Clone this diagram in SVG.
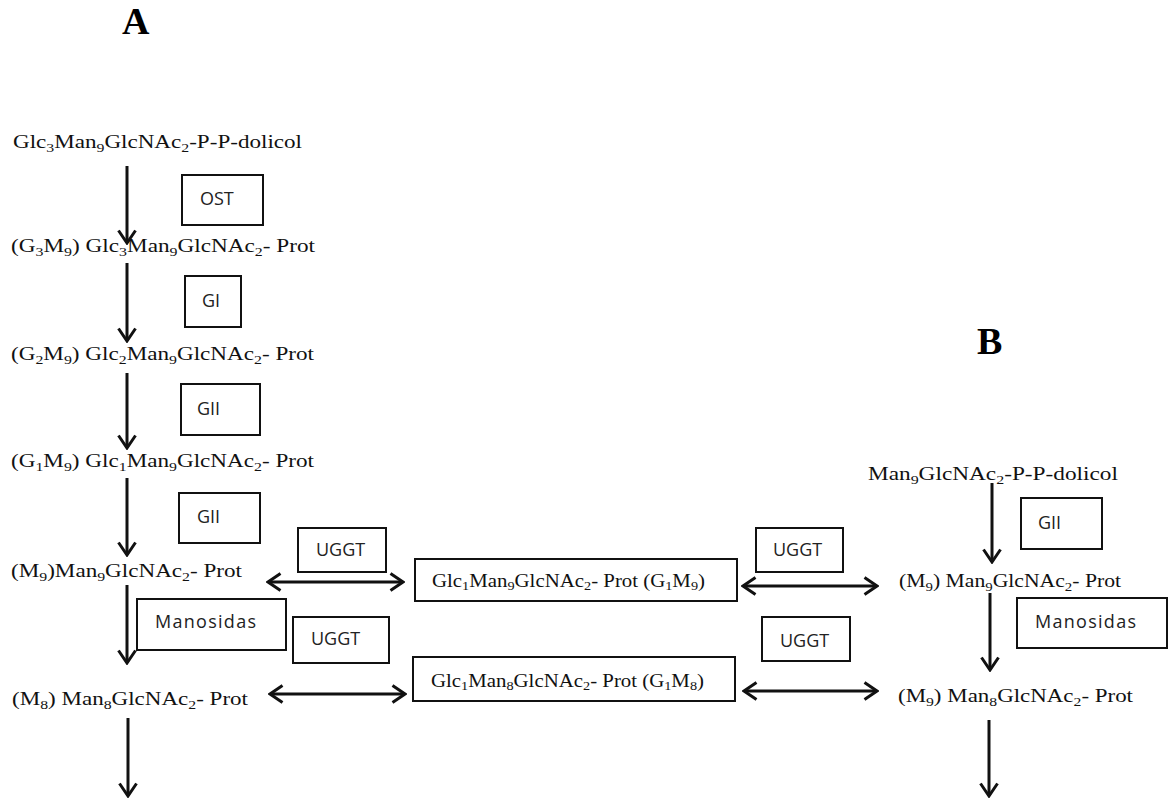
<svg xmlns="http://www.w3.org/2000/svg" width="1172" height="798" viewBox="0 0 1172 798">
<style>
.c{font-family:"Liberation Serif","Times New Roman",serif;font-size:19px;fill:#111}
.sb{font-size:13px}
.e{font-family:"Open Sans","Liberation Sans",sans-serif;font-size:18px;fill:#222}
.bx{fill:none;stroke:#111;stroke-width:2}
.ln{stroke:#111;stroke-width:3;fill:none}
.lt{font-family:"Liberation Serif","Times New Roman",serif;font-weight:bold;font-size:38px;fill:#000}
</style>
<defs>
<marker id="ah" viewBox="0 0 16 20" refX="14" refY="10" markerWidth="16" markerHeight="20" markerUnits="userSpaceOnUse" orient="auto-start-reverse">
<path d="M1.5,1.5 L14,10 L1.5,18.5" fill="none" stroke="#111" stroke-width="3"/>
</marker>
</defs>
<rect width="1172" height="798" fill="#fff"/>
<text class="lt" x="122" y="34">A</text>
<text class="lt" x="977" y="354">B</text>

<g id="connectors">
<line class="ln" x1="127" y1="166" x2="127" y2="243" marker-end="url(#ah)"/>
<line class="ln" x1="127" y1="263" x2="127" y2="341" marker-end="url(#ah)"/>
<line class="ln" x1="127" y1="373" x2="127" y2="448" marker-end="url(#ah)"/>
<line class="ln" x1="127" y1="478" x2="127" y2="555" marker-end="url(#ah)"/>
<line class="ln" x1="127" y1="585" x2="127" y2="663" marker-end="url(#ah)"/>
<line class="ln" x1="128" y1="718" x2="128" y2="796" marker-end="url(#ah)"/>
<line class="ln" x1="992" y1="483" x2="992" y2="562" marker-end="url(#ah)"/>
<line class="ln" x1="990" y1="593" x2="990" y2="670" marker-end="url(#ah)"/>
<line class="ln" x1="989" y1="720" x2="989" y2="796" marker-end="url(#ah)"/>
<line class="ln" x1="268" y1="582" x2="403" y2="582" marker-start="url(#ah)" marker-end="url(#ah)"/>
<line class="ln" x1="270" y1="694" x2="405" y2="694" marker-start="url(#ah)" marker-end="url(#ah)"/>
<line class="ln" x1="743" y1="586" x2="877" y2="586" marker-start="url(#ah)" marker-end="url(#ah)"/>
<line class="ln" x1="744" y1="691" x2="877" y2="691" marker-start="url(#ah)" marker-end="url(#ah)"/>
</g>

<g id="n-lipid-A"><text class="c" x="13" y="148" textLength="289" lengthAdjust="spacingAndGlyphs">Glc<tspan class="sb" dy="4">3</tspan><tspan dy="-4">Man</tspan><tspan class="sb" dy="4">9</tspan><tspan dy="-4">GlcNAc</tspan><tspan class="sb" dy="4">2</tspan><tspan dy="-4">-P-P-dolicol</tspan></text></g>
<g id="n-g3m9"><text class="c" x="11" y="252" textLength="304" lengthAdjust="spacingAndGlyphs">(G<tspan class="sb" dy="4">3</tspan><tspan dy="-4">M</tspan><tspan class="sb" dy="4">9</tspan><tspan dy="-4">) Glc</tspan><tspan class="sb" dy="4">3</tspan><tspan dy="-4">Man</tspan><tspan class="sb" dy="4">9</tspan><tspan dy="-4">GlcNAc</tspan><tspan class="sb" dy="4">2</tspan><tspan dy="-4">- Prot</tspan></text></g>
<g id="n-g2m9"><text class="c" x="11" y="360" textLength="303" lengthAdjust="spacingAndGlyphs">(G<tspan class="sb" dy="4">2</tspan><tspan dy="-4">M</tspan><tspan class="sb" dy="4">9</tspan><tspan dy="-4">) Glc</tspan><tspan class="sb" dy="4">2</tspan><tspan dy="-4">Man</tspan><tspan class="sb" dy="4">9</tspan><tspan dy="-4">GlcNAc</tspan><tspan class="sb" dy="4">2</tspan><tspan dy="-4">- Prot</tspan></text></g>
<g id="n-g1m9"><text class="c" x="11" y="467" textLength="303" lengthAdjust="spacingAndGlyphs">(G<tspan class="sb" dy="4">1</tspan><tspan dy="-4">M</tspan><tspan class="sb" dy="4">9</tspan><tspan dy="-4">) Glc</tspan><tspan class="sb" dy="4">1</tspan><tspan dy="-4">Man</tspan><tspan class="sb" dy="4">9</tspan><tspan dy="-4">GlcNAc</tspan><tspan class="sb" dy="4">2</tspan><tspan dy="-4">- Prot</tspan></text></g>
<g id="n-m9-A"><text class="c" x="11" y="577" textLength="231" lengthAdjust="spacingAndGlyphs">(M<tspan class="sb" dy="4">9</tspan><tspan dy="-4">)Man</tspan><tspan class="sb" dy="4">9</tspan><tspan dy="-4">GlcNAc</tspan><tspan class="sb" dy="4">2</tspan><tspan dy="-4">- Prot</tspan></text></g>
<g id="n-m8-A"><text class="c" x="12" y="705" textLength="236" lengthAdjust="spacingAndGlyphs">(M<tspan class="sb" dy="4">8</tspan><tspan dy="-4">) Man</tspan><tspan class="sb" dy="4">8</tspan><tspan dy="-4">GlcNAc</tspan><tspan class="sb" dy="4">2</tspan><tspan dy="-4">- Prot</tspan></text></g>

<g id="n-g1m9-box"><rect class="bx" x="415" y="559" width="322" height="42"/><text class="c" x="432" y="587" textLength="273" lengthAdjust="spacingAndGlyphs">Glc<tspan class="sb" dy="3">1</tspan><tspan dy="-3">Man</tspan><tspan class="sb" dy="3">9</tspan><tspan dy="-3">GlcNAc</tspan><tspan class="sb" dy="3">2</tspan><tspan dy="-3">- Prot (G</tspan><tspan class="sb" dy="3">1</tspan><tspan dy="-3">M</tspan><tspan class="sb" dy="3">9</tspan><tspan dy="-3">)</tspan></text></g>
<g id="n-g1m8-box"><rect class="bx" x="413" y="657" width="322" height="44"/><text class="c" x="431" y="687" textLength="273" lengthAdjust="spacingAndGlyphs">Glc<tspan class="sb" dy="3">1</tspan><tspan dy="-3">Man</tspan><tspan class="sb" dy="3">8</tspan><tspan dy="-3">GlcNAc</tspan><tspan class="sb" dy="3">2</tspan><tspan dy="-3">- Prot (G</tspan><tspan class="sb" dy="3">1</tspan><tspan dy="-3">M</tspan><tspan class="sb" dy="3">8</tspan><tspan dy="-3">)</tspan></text></g>

<g id="n-lipid-B"><text class="c" x="868" y="480" textLength="250" lengthAdjust="spacingAndGlyphs">Man<tspan class="sb" dy="4">9</tspan><tspan dy="-4">GlcNAc</tspan><tspan class="sb" dy="4">2</tspan><tspan dy="-4">-P-P-dolicol</tspan></text></g>
<g id="n-m9-B"><text class="c" x="899" y="587" textLength="222" lengthAdjust="spacingAndGlyphs">(M<tspan class="sb" dy="4">9</tspan><tspan dy="-4">) Man</tspan><tspan class="sb" dy="4">9</tspan><tspan dy="-4">GlcNAc</tspan><tspan class="sb" dy="4">2</tspan><tspan dy="-4">- Prot</tspan></text></g>
<g id="n-m8-B"><text class="c" x="898" y="702" textLength="235" lengthAdjust="spacingAndGlyphs">(M<tspan class="sb" dy="4">9</tspan><tspan dy="-4">) Man</tspan><tspan class="sb" dy="4">8</tspan><tspan dy="-4">GlcNAc</tspan><tspan class="sb" dy="4">2</tspan><tspan dy="-4">- Prot</tspan></text></g>

<g id="e-ost"><rect class="bx" x="182" y="175" width="81" height="50"/><text class="e" x="200" y="205">OST</text></g>
<g id="e-gi"><rect class="bx" x="185" y="276" width="56" height="51"/><text class="e" x="202" y="307">GI</text></g>
<g id="e-gii-1"><rect class="bx" x="181" y="384" width="79" height="51"/><text class="e" x="197" y="415">GII</text></g>
<g id="e-gii-2"><rect class="bx" x="179" y="493" width="81" height="50"/><text class="e" x="197" y="523">GII</text></g>
<g id="e-uggt-1"><rect class="bx" x="298" y="528" width="88" height="44"/><text class="e" x="316" y="556">UGGT</text></g>
<g id="e-manos-A"><rect class="bx" x="137" y="599" width="149" height="51"/><text class="e" x="155" y="628" textLength="101">Manosidas</text></g>
<g id="e-uggt-2"><rect class="bx" x="293" y="617" width="96" height="46"/><text class="e" x="311" y="645">UGGT</text></g>
<g id="e-uggt-3"><rect class="bx" x="756" y="528" width="87" height="44"/><text class="e" x="773" y="556">UGGT</text></g>
<g id="e-uggt-4"><rect class="bx" x="762" y="617" width="88" height="44"/><text class="e" x="780" y="647">UGGT</text></g>
<g id="e-gii-B"><rect class="bx" x="1021" y="498" width="81" height="51"/><text class="e" x="1038" y="529">GII</text></g>
<g id="e-manos-B"><rect class="bx" x="1017" y="598" width="150" height="50"/><text class="e" x="1035" y="628" textLength="101">Manosidas</text></g>
</svg>
